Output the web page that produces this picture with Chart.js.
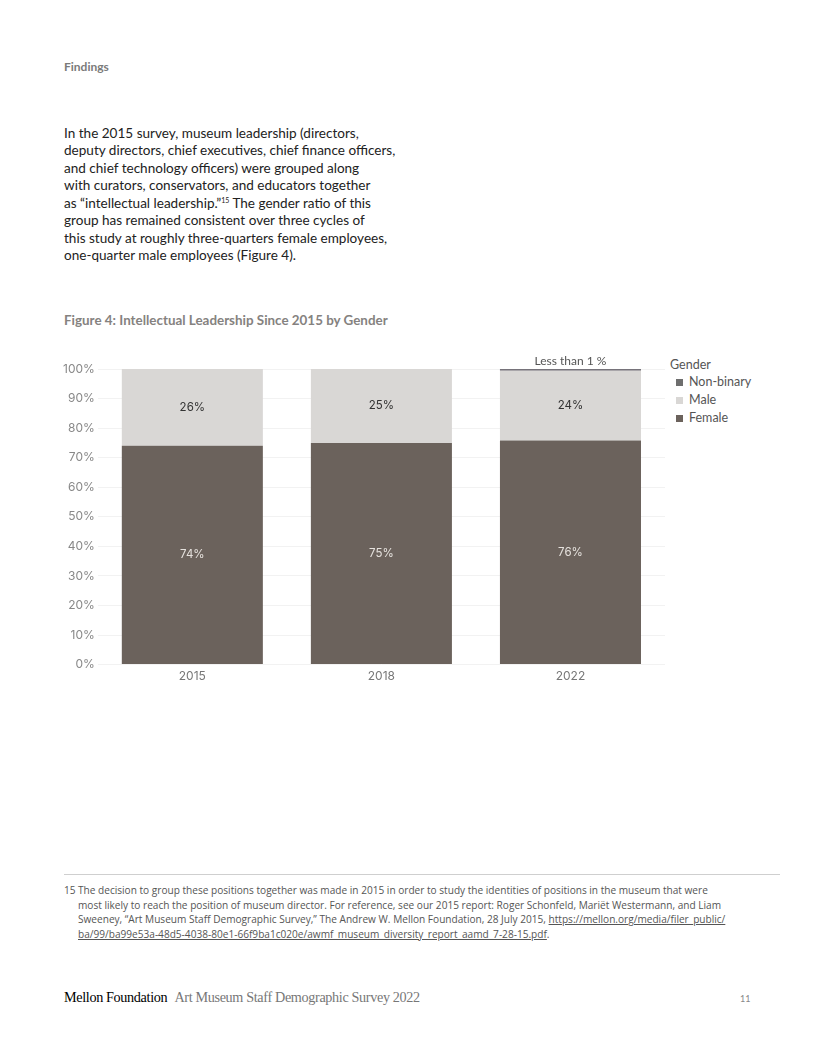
<!DOCTYPE html>
<html>
<head>
<meta charset="utf-8">
<script src="https://cdn.jsdelivr.net/npm/chart.js@4.4.1/dist/chart.umd.min.js"></script>
<style>
  html, body { margin: 0; padding: 0; background: #fff; }
  body { width: 816px; height: 1056px; position: relative; font-family: Lato, "Open Sans", sans-serif; }
  .findings { position: absolute; left: 64px; top: 59px; font-size: 12px; font-weight: 700; color: #7a7a7a; }
  .intro { position: absolute; left: 64px; top: 125px; font-size: 13.55px; line-height: 17.43px; color: #222; white-space: nowrap; }
  .intro sup { font-size: 7px; vertical-align: 5px; line-height: 0; }
  .figtitle { position: absolute; left: 64px; top: 312px; font-size: 13.4px; font-weight: 700; color: #858280; white-space: nowrap; }
  .chartbox { position: absolute; left: 58px; top: 350px; width: 607px; height: 339px; }
  .legend { position: absolute; left: 670px; top: 356px; font-size: 12.5px; color: #555; }
  .legend .ttl { height: 17px; line-height: 17px; }
  .legend .item { position: relative; height: 18px; line-height: 18px; padding-left: 19px; }
  .legend .box { position: absolute; left: 6px; top: 6px; width: 7px; height: 7px; }
  .rule { position: absolute; left: 64px; top: 874px; width: 716px; height: 0; border-top: 1.5px solid #cfcfcf; }
  .note { position: absolute; left: 64px; top: 883px; width: 730px; font-family: "Open Sans", sans-serif; font-size: 10.1px; line-height: 14.6px; color: #555; }
  .note .num { position: absolute; left: 0; top: 0; }
  .note .txt { margin-left: 14px; white-space: nowrap; }
  .note a { color: #555; text-decoration: underline; }
  .footer { position: absolute; left: 64px; top: 989px; font-family: "Liberation Serif", "DejaVu Serif", serif; font-size: 14.2px; color: #000; letter-spacing: -0.35px; white-space: nowrap; }
  .footer span { color: #777; margin-left: 4px; }
  .pagenum { position: absolute; left: 740px; top: 993px; font-size: 9px; color: #888; }
</style>
</head>
<body>
<div class="findings">Findings</div>
<div class="intro">In the 2015 survey, museum leadership (directors,<br>deputy directors, chief executives, chief finance officers,<br>and chief technology officers) were grouped along<br>with curators, conservators, and educators together<br>as “intellectual leadership.”<sup>15</sup> The gender ratio of this<br>group has remained consistent over three cycles of<br>this study at roughly three-quarters female employees,<br>one-quarter male employees (Figure 4).</div>
<div class="figtitle">Figure 4: Intellectual Leadership Since 2015 by Gender</div>
<div class="chartbox"><canvas id="chart"></canvas></div>
<div class="legend" id="legend"><div class="ttl">Gender</div></div>
<div class="rule"></div>
<div class="note">
  <span class="num">15</span>
  <div class="txt">The decision to group these positions together was made in 2015 in order to study the identities of positions in the museum that were<br>most likely to reach the position of museum director. For reference, see our 2015 report: Roger Schonfeld, Mariët Westermann, and Liam<br>Sweeney,  “Art Museum Staff Demographic Survey,” The Andrew W. Mellon Foundation, 28 July 2015, <a>https://mellon.org/media/filer_public/</a><br><a>ba/99/ba99e53a-48d5-4038-80e1-66f9ba1c020e/awmf_museum_diversity_report_aamd_7-28-15.pdf</a>.</div>
</div>
<div class="footer">Mellon Foundation <span>Art Museum Staff Demographic Survey 2022</span></div>
<div class="pagenum">11</div>

<script>
const years = ['2015', '2018', '2022'];
const female = [74, 75, 75.8];
const male = [26, 25, 23.6];
const nonBinary = [0, 0, 0.6];
const yTicks = [0, 10, 20, 30, 40, 50, 60, 70, 80, 90, 100];

const colFemale = '#6b625c';
const colMale = '#d9d7d5';
const colNB = '#76737a';

const chart = new Chart(document.getElementById('chart'), {
  type: 'bar',
  data: {
    labels: years,
    datasets: [
      { label: 'Female', data: female, backgroundColor: colFemale },
      { label: 'Male', data: male, backgroundColor: colMale },
      { label: 'Non-binary', data: nonBinary, backgroundColor: colNB }
    ]
  },
  options: {
    responsive: true,
    maintainAspectRatio: false,
    animation: false,
    layout: { padding: { top: 19, bottom: 0, left: 2, right: 0 } },
    datasets: { bar: { categoryPercentage: 1, barPercentage: 0.746 } },
    scales: {
      x: {
        stacked: true,
        grid: { display: false, drawTicks: false },
        border: { display: false },
        ticks: { color: '#777', font: { size: 12, family: 'Inter, "Open Sans", sans-serif' }, padding: 5 }
      },
      y: {
        stacked: true,
        min: 0,
        max: 100,
        afterBuildTicks(axis) { axis.ticks = yTicks.map(v => ({ value: v })); },
        grid: { color: '#f2f2f2', drawTicks: false },
        border: { display: false },
        ticks: {
          color: '#888',
          padding: 3,
          font: { size: 12, family: 'Inter, "Open Sans", sans-serif' },
          callback: v => v + '%'
        }
      }
    },
    plugins: {
      tooltip: { enabled: false },
      legend: { display: false }
    }
  },
  plugins: [{
    // % text in the segments, and the note over the thin non-binary slice
    id: 'segLabels',
    afterDatasetsDraw(chart) {
      const ctx = chart.ctx;
      ctx.save();
      ctx.textAlign = 'center';
      chart.data.datasets.forEach((ds, di) => {
        chart.getDatasetMeta(di).data.forEach((bar, i) => {
          const v = ds.data[i];
          if (!v) return;
          if (ds.label === 'Non-binary') {
            ctx.fillStyle = '#555';
            ctx.font = '12px Lato, "Open Sans", sans-serif';
            ctx.textBaseline = 'alphabetic';
            ctx.fillText('Less than 1 %', bar.x, bar.y - 4);
            return;
          }
          ctx.font = '11.5px Inter, "Open Sans", sans-serif';
          ctx.textBaseline = 'middle';
          ctx.fillStyle = ds.label === 'Female' ? '#e6e2de' : '#333';
          ctx.fillText(Math.round(v) + '%', bar.x, (bar.y + bar.base) / 2);
        });
      });
      ctx.restore();
    }
  }]
});

// legend, top item = last dataset
const lg = document.getElementById('legend');
chart.data.datasets.slice().reverse().forEach(ds => {
  const it = document.createElement('div');
  it.className = 'item';
  it.innerHTML = '<span class="box" style="background:' + (ds.label === 'Non-binary' ? '#6e6e6e' : ds.backgroundColor) + '"></span>' + ds.label;
  lg.appendChild(it);
});
</script>
</body>
</html>
